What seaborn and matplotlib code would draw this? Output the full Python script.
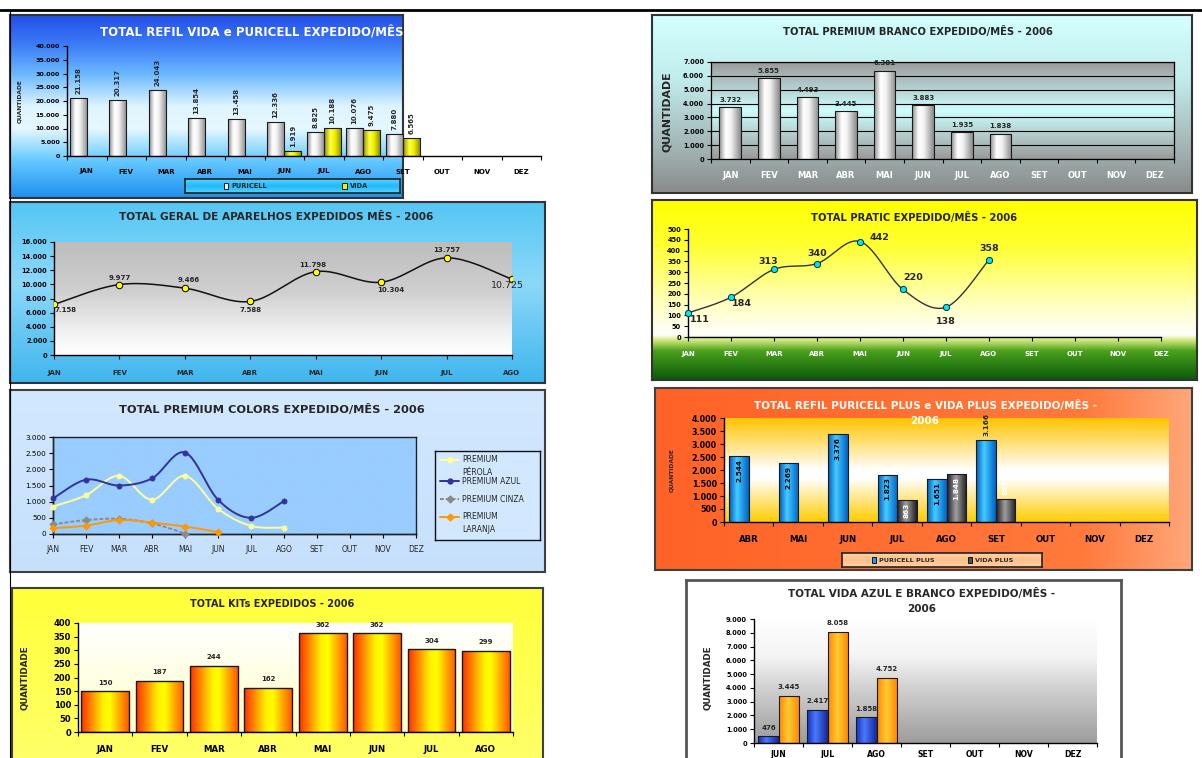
import numpy as np
import pandas as pd
import matplotlib
matplotlib.use("Agg")
import matplotlib.pyplot as plt
import seaborn as sns
from matplotlib.colors import LinearSegmentedColormap, to_hex
from matplotlib.lines import Line2D
from matplotlib.patches import Rectangle

sns.set_theme(style="white")
plt.rcParams['font.family'] = ['DejaVu Sans']

# ---------------- DATA ----------------
meses = ["JAN", "FEV", "MAR", "ABR", "MAI", "JUN", "JUL", "AGO", "SET", "OUT", "NOV", "DEZ"]

refil_puricell = [21158, 20317, 24043, 13854, 13458, 12336, 8825, 10076, 7880]
refil_vida = [None, None, None, None, None, 1919, 10188, 9475, 6565]

branco_vals = [3732, 5855, 4493, 3445, 6381, 3883, 1935, 1838]

geral_vals = [7158, 9977, 9466, 7588, 11798, 10304, 13757, 10725]

pratic_vals = [111, 184, 313, 340, 442, 220, 138, 358]

colors_perola = [850, 1200, 1800, 1060, 1800, 780, 250, 200]
colors_azul = [1100, 1680, 1500, 1720, 2520, 1060, 500, 1020]
colors_cinza = [300, 430, 470, 330, 15]
colors_laranja = [180, 260, 430, 350, 230, 60]

plus_meses = ["ABR", "MAI", "JUN", "JUL", "AGO", "SET", "OUT", "NOV", "DEZ"]
plus_puricell = [2544, 2269, 3376, 1823, 1651, 3166]
plus_vida = [None, None, None, 863, 1848, 883]

kits_meses = ["JAN", "FEV", "MAR", "ABR", "MAI", "JUN", "JUL", "AGO"]
kits_vals = [150, 187, 244, 162, 362, 362, 304, 299]

ab_meses = ["JUN", "JUL", "AGO", "SET", "OUT", "NOV", "DEZ"]
ab_azul = [476, 2417, 1858]
ab_branco = [3445, 8058, 4752]

# ---------------- HELPERS ----------------
W, H = 1202, 758
fig = plt.figure(figsize=(W / 100, H / 100), dpi=100)
fig.patch.set_facecolor("white")


def br(v):
    return f"{int(round(v)):,}".replace(",", ".")


def px_rect(x0, y0, x1, y1):
    return [x0 / W, 1 - y1 / H, (x1 - x0) / W, (y1 - y0) / H]


def gcmap(stops):
    return LinearSegmentedColormap.from_list("g", stops)


def panel(x0, y0, x1, y1, stops, edge="#404040", lw=1.5, horizontal=False):
    a = fig.add_axes(px_rect(x0, y0, x1, y1))
    arr = np.linspace(0, 1, 256)
    arr = arr.reshape(1, -1) if horizontal else arr.reshape(-1, 1)
    a.imshow(arr, cmap=gcmap(stops), aspect="auto", extent=[0, 1, 0, 1],
             origin="upper", interpolation="bilinear")
    a.set_xlim(0, 1)
    a.set_ylim(0, 1)
    a.set_xticks([])
    a.set_yticks([])
    for s in a.spines.values():
        if edge is None:
            s.set_visible(False)
        else:
            s.set_color(edge)
            s.set_linewidth(lw)
    return a


def chart_axes(x0, y0, x1, y1):
    a = fig.add_axes(px_rect(x0, y0, x1, y1))
    a.set_facecolor("none")
    return a


def ftext(x, y, s, **kw):
    kw.setdefault("ha", "center")
    kw.setdefault("va", "center")
    return fig.text(x / W, 1 - y / H, s, **kw)


def long_df(cats, series):
    rows = []
    for name, vals in series.items():
        for c, v in zip(cats, vals):
            if v is not None:
                rows.append((c, name, v))
    return pd.DataFrame(rows, columns=["mes", "serie", "qtd"])


def shade_bars(ax, color_to_stops, edge="#1a1a1a", lw=0.8):
    """Return list of (patch, key) and paint a cylinder gradient inside each bar."""
    out = []
    g = np.linspace(0, 1, 64).reshape(1, -1)
    for p in list(ax.patches):
        h = p.get_height()
        if not np.isfinite(h) or h == 0:
            continue
        key = to_hex(p.get_facecolor())
        stops = color_to_stops.get(key)
        out.append((p, key))
        if stops is None:
            continue
        x0, y0, w = p.get_x(), p.get_y(), p.get_width()
        im = ax.imshow(g, cmap=gcmap(stops), extent=[x0, x0 + w, y0, y0 + h],
                       aspect="auto", interpolation="bilinear",
                       zorder=p.get_zorder() - 0.01)
        im.set_clip_path(p)
        p.set_facecolor("none")
        p.set_edgecolor(edge)
        p.set_linewidth(lw)
    return out


def cat_ticks(ax, labels, n, fs, color="black", pad=4, minor_len=3):
    ax.set_xticks(range(len(labels)))
    ax.set_xticklabels(labels, fontsize=fs, fontweight="bold", color=color)
    ax.set_xticks(np.arange(-0.5, n, 1.0), minor=True)
    ax.tick_params(axis="x", which="major", length=0, pad=pad)
    ax.tick_params(axis="x", which="minor", length=minor_len, width=0.8,
                   color="black", direction="out", bottom=True)


def y_ticks(ax, ticks, fs, color="black", weight="bold", pad=2):
    ax.set_yticks(ticks)
    ax.set_yticklabels([br(t) for t in ticks], fontsize=fs, fontweight=weight, color=color)
    ax.tick_params(axis="y", length=3, width=0.8, color="black", direction="out",
                   left=True, pad=pad)


def smooth_curve(ys, n=24):
    P = np.column_stack([np.arange(len(ys), dtype=float), np.asarray(ys, float)])
    segs = []
    for i in range(len(P) - 1):
        p0 = P[i - 1] if i > 0 else P[i]
        p1, p2 = P[i], P[i + 1]
        p3 = P[i + 2] if i + 2 < len(P) else P[i + 1]
        c1 = p1 + (p2 - p0) / 6.0
        c2 = p2 - (p3 - p1) / 6.0
        t = np.linspace(0, 1, n)[:, None]
        seg = (1 - t) ** 3 * p1 + 3 * (1 - t) ** 2 * t * c1 + 3 * (1 - t) * t ** 2 * c2 + t ** 3 * p2
        segs.append(seg if i == 0 else seg[1:])
    return np.vstack(segs)


def spines(ax, which, color="black", lw=0.9):
    for k, s in ax.spines.items():
        if k in which:
            s.set_visible(True)
            s.set_color(color)
            s.set_linewidth(lw)
        else:
            s.set_visible(False)


WHITE_BAR = [(0, "#8e8e8e"), (0.3, "#ffffff"), (0.55, "#f2f2f2"), (1, "#8a8a8a")]
YELLOW_BAR = [(0, "#8f8f00"), (0.35, "#ffff40"), (0.6, "#f2f200"), (1, "#858500")]

# ================= PANEL 1: REFIL VIDA e PURICELL =================
bg1 = panel(10, 15, 403, 198, [(0, "#2350e6"), (0.15, "#3a78f5"), (0.32, "#6ab8ff"),
                               (0.5, "#def5ff"), (0.62, "#e6f8ff"), (0.8, "#63c8ff"),
                               (1, "#1e8ff0")], edge="#333333")
ax1 = chart_axes(67, 46, 541, 156)
df1 = long_df(meses, {"PURICELL": refil_puricell, "VIDA": refil_vida})
sns.barplot(data=df1, x="mes", y="qtd", hue="serie", order=meses,
            hue_order=["PURICELL", "VIDA"], palette=["#e6e6e6", "#f0f000"],
            width=0.87, saturation=1, errorbar=None, legend=False, ax=ax1,
            edgecolor="#1a1a1a", linewidth=0.8)
bars1 = shade_bars(ax1, {"#e6e6e6": WHITE_BAR, "#f0f000": YELLOW_BAR})
for p, key in bars1:
    ax1.annotate(br(p.get_height()), (p.get_x() + p.get_width() / 2, p.get_height()),
                 xytext=(0, 3), textcoords="offset points", rotation=90,
                 ha="center", va="bottom", fontsize=5, fontweight="bold")
ax1.set_xlim(-0.5, 11.5)
ax1.set_ylim(0, 40000)
y_ticks(ax1, list(range(0, 40001, 5000)), 4.6)
cat_ticks(ax1, meses, 12, 5, pad=9)
spines(ax1, ["left", "bottom"], lw=1.0)
ax1.set_xlabel("")
ax1.set_ylabel("")
ftext(20, 101, "QUANTIDADE", rotation=90, fontsize=4.3, fontweight="bold")
t1 = ftext(275, 33, "TOTAL REFIL VIDA e PURICELL EXPEDIDO/MÊS - 2006", color="white",
           fontsize=8.5, fontweight="bold")
t1.set_clip_path(bg1.patch)
lg1 = panel(185, 179, 400, 193, [(0, "#55d4ff"), (0.5, "#22b8ff"), (1, "#55d4ff")],
            edge="#222222", lw=1.2)
lg1.add_patch(Rectangle((0.18, 0.3), 0.022, 0.4, facecolor="#f2f2f2", edgecolor="black", lw=0.6))
lg1.text(0.215, 0.5, "PURICELL", fontsize=4.8, fontweight="bold", va="center")
lg1.add_patch(Rectangle((0.73, 0.3), 0.022, 0.4, facecolor="#f0f000", edgecolor="black", lw=0.6))
lg1.text(0.765, 0.5, "VIDA", fontsize=4.8, fontweight="bold", va="center")

# ================= PANEL 2: PREMIUM BRANCO =================
panel(652, 15, 1192, 193, [(0, "#d4ffff"), (0.35, "#c2eded"), (0.75, "#a2b4b4"),
                           (1, "#8a8a8a")], edge="#333333")
panel(711, 62, 1174, 159, [(0, "#9a9a9a"), (0.5, "#ccffff"), (1, "#9a9a9a")], edge=None)
ax2 = chart_axes(711, 62, 1174, 159)
df2 = pd.DataFrame({"mes": meses[:len(branco_vals)], "qtd": branco_vals})
sns.barplot(data=df2, x="mes", y="qtd", order=meses, color="#ececec", width=0.56,
            saturation=1, errorbar=None, ax=ax2, edgecolor="#1a1a1a", linewidth=0.8)
bars2 = shade_bars(ax2, {"#ececec": WHITE_BAR})
for p, key in bars2:
    ax2.annotate(br(p.get_height()), (p.get_x() + p.get_width() / 2, p.get_height()),
                 xytext=(0, 3), textcoords="offset points", ha="center", va="bottom",
                 fontsize=5, fontweight="bold")
ax2.set_xlim(-0.5, 11.5)
ax2.set_ylim(0, 7000)
y_ticks(ax2, list(range(0, 7001, 1000)), 4.8)
cat_ticks(ax2, meses, 12, 6, color="white", pad=9)
ax2.yaxis.grid(True, color="black", lw=0.8)
ax2.set_axisbelow(True)
spines(ax2, ["left", "bottom", "top", "right"], lw=0.9)
ax2.set_xlabel("")
ax2.set_ylabel("")
ftext(667, 112, "QUANTIDADE", rotation=90, fontsize=7.8, fontweight="bold")
ftext(918, 32, "TOTAL PREMIUM BRANCO EXPEDIDO/MÊS - 2006", fontsize=7.2, fontweight="bold")

# ================= PANEL 3: TOTAL GERAL =================
panel(10, 202, 545, 383, [(0, "#55c6f4"), (0.45, "#8cd8fa"), (1, "#3fb6ee")], edge="#333333")
panel(54, 242, 512, 355, [(0, "#bdbdbd"), (0.45, "#d0d0d0"), (0.8, "#f2f2f2"), (1, "#ffffff")], edge=None)
ax3 = chart_axes(54, 242, 512, 355)
c3 = smooth_curve(geral_vals)
sns.lineplot(x=c3[:, 0], y=c3[:, 1], sort=False, estimator=None, color="#111111", lw=1.1, ax=ax3)
sns.scatterplot(x=np.arange(len(geral_vals)), y=geral_vals, color="#ffff00", edgecolor="black",
                s=22, linewidth=0.7, zorder=5, ax=ax3, legend=False)
off3 = [(12, -6), (0, 7), (4, 8), (0, -9), (-3, 7), (10, -8), (0, 8), (-5, -6)]
for i, (v, o) in enumerate(zip(geral_vals, off3)):
    big = i == len(geral_vals) - 1
    ax3.annotate(br(v), (i, v), xytext=(o[0] * 0.72, o[1] * 0.72), textcoords="offset points",
                 ha="center", va="center", fontsize=6.8 if big else 5,
                 fontweight="normal" if big else "bold", zorder=6)
ax3.set_xlim(0, 7)
ax3.set_ylim(0, 16000)
y_ticks(ax3, list(range(0, 16001, 2000)), 4.8)
ax3.set_xticks(range(8))
ax3.set_xticklabels(meses[:8], fontsize=5, fontweight="bold")
ax3.tick_params(axis="x", length=3, width=0.8, color="black", bottom=True, pad=8)
spines(ax3, ["left", "bottom"], lw=1.0)
ftext(276, 217, "TOTAL GERAL DE APARELHOS EXPEDIDOS MÊS - 2006", fontsize=7.6, fontweight="bold")

# ================= PANEL 4: PRATIC =================
panel(652, 200, 1197, 380, [(0, "#ffff00"), (0.25, "#ffff30"), (0.56, "#ffffb8"),
                            (0.75, "#ffffff"), (0.78, "#d0e878"), (0.84, "#4aa01c"),
                            (1, "#0a5a0a")], edge="#333333")
ax4 = chart_axes(688, 229, 1161, 337)
c4 = smooth_curve(pratic_vals)
sns.lineplot(x=c4[:, 0], y=c4[:, 1], sort=False, estimator=None, color="#333333", lw=1.0, ax=ax4)
sns.scatterplot(x=np.arange(len(pratic_vals)), y=pratic_vals, color="#00e5ff", edgecolor="#003333",
                s=20, linewidth=0.7, zorder=5, ax=ax4, legend=False, clip_on=False)
off4 = [(12, -6), (11, -6), (-6, 8), (0, 10), (19, 4), (10, 12), (0, -14), (0, 11)]
for i, (v, o) in enumerate(zip(pratic_vals, off4)):
    ax4.annotate(str(v), (i, v), xytext=(o[0] * 0.72, o[1] * 0.72), textcoords="offset points",
                 ha="center", va="center", fontsize=6.8, fontweight="bold", zorder=6)
ax4.set_xlim(0, 11)
ax4.set_ylim(0, 500)
y_ticks(ax4, list(range(0, 501, 50)), 4.8)
ax4.set_xticks(range(12))
ax4.set_xticklabels(meses, fontsize=5, fontweight="bold", color="white")
ax4.tick_params(axis="x", length=3, width=0.8, color="black", bottom=True, pad=7)
spines(ax4, ["left", "bottom"], lw=1.0)
ftext(914, 218, "TOTAL PRATIC EXPEDIDO/MÊS - 2006", fontsize=7.2, fontweight="bold")

# ================= PANEL 5: PREMIUM COLORS =================
panel(10, 390, 545, 572, [(0, "#d2e8ff"), (1, "#c6e0fc")], edge="#404040")
panel(53, 437, 416, 534, [(0, "#99ccff"), (1, "#99ccff")], edge="#222222", lw=1.0)
ax5 = chart_axes(53, 437, 416, 534)
series5 = [
    ("PREMIUM\nPÉROLA", colors_perola, "#ffff99", "o", "-"),
    ("PREMIUM AZUL", colors_azul, "#333399", "o", "-"),
    ("PREMIUM CINZA", colors_cinza, "#8a8a8a", "D", (0, (2, 1))),
    ("PREMIUM\nLARANJA", colors_laranja, "#ff9900", "D", "-"),
]
for name, vals, col, mk, ls in series5:
    cc = smooth_curve(vals)
    sns.lineplot(x=cc[:, 0], y=cc[:, 1], sort=False, estimator=None, color=col, lw=1.4,
                 ax=ax5, linestyle=ls)
    sns.scatterplot(x=np.arange(len(vals)), y=vals, color=col, marker=mk, s=14,
                    edgecolor=col, linewidth=0.5, zorder=5, ax=ax5, legend=False, clip_on=False)
ax5.set_xlim(0, 11)
ax5.set_ylim(0, 3000)
y_ticks(ax5, list(range(0, 3001, 500)), 5.2, weight="normal")
ax5.set_xticks(range(12))
ax5.set_xticklabels(meses, fontsize=5.5)
ax5.tick_params(axis="x", length=3, width=0.8, color="black", bottom=True, pad=5)
spines(ax5, ["left", "bottom"], color="#222222", lw=1.0)
ftext(272, 409, "TOTAL PREMIUM COLORS EXPEDIDO/MÊS - 2006", fontsize=8.2, fontweight="bold")
lg5 = panel(435, 451, 540, 540, [(0, "#d2e8ff"), (1, "#d2e8ff")], edge="#111111", lw=1.0)
leg_pos = [0.9, 0.66, 0.46, 0.26]
for (name, vals, col, mk, ls), yl in zip(series5, leg_pos):
    lg5.add_line(Line2D([0.05, 0.23], [yl, yl], color=col, lw=1.4, linestyle=ls))
    lg5.add_line(Line2D([0.14], [yl], color=col, marker=mk, markersize=3.5))
    parts = name.split("\n")
    t = lg5.text(0.26, yl, parts[0], fontsize=5.5, va="center", ha="left")
    t.set_clip_path(lg5.patch)
    if len(parts) > 1:
        t2 = lg5.text(0.26, yl - 0.14, parts[1], fontsize=5.5, va="center", ha="left")
        t2.set_clip_path(lg5.patch)

# ================= PANEL 6: PURICELL PLUS e VIDA PLUS =================
panel(655, 388, 1192, 570, [(0, "#ff6226"), (0.8, "#ff7a3c"), (1, "#ffa77a")],
      edge="#404040", horizontal=True)
panel(724, 418, 1169, 522, [(0, "#ffc400"), (0.5, "#ffffff"), (0.58, "#ffffff"), (1, "#ffcc00")], edge=None)
ax6 = chart_axes(724, 418, 1169, 522)
df6 = long_df(plus_meses, {"PURICELL PLUS": plus_puricell, "VIDA PLUS": plus_vida})
sns.barplot(data=df6, x="mes", y="qtd", hue="serie", order=plus_meses,
            hue_order=["PURICELL PLUS", "VIDA PLUS"], palette=["#1a9cff", "#505050"],
            width=0.79, saturation=1, errorbar=None, legend=False, ax=ax6,
            edgecolor="#1a1a1a", linewidth=0.8)
bars6 = shade_bars(ax6, {"#1a9cff": [(0, "#0058c0"), (0.4, "#44ccff"), (1, "#0062c8")],
                         "#505050": [(0, "#1e1e1e"), (0.45, "#a0a0a0"), (1, "#1e1e1e")]})
for p, key in bars6:
    h = p.get_height()
    xc = p.get_x() + p.get_width() / 2
    is_vida = key == "#505050"
    if is_vida and h < 1000:
        if h > 870:
            ax6.annotate(br(h), (xc, h), xytext=(0, 3), textcoords="offset points", rotation=90,
                         ha="center", va="bottom", fontsize=5.2, fontweight="bold", color="white")
        else:
            ax6.annotate(br(h), (xc, h), xytext=(0, -2), textcoords="offset points", rotation=90,
                         ha="center", va="top", fontsize=5.2, fontweight="bold", color="white")
    elif h > 3100 and h < 3300:
        ax6.annotate(br(h), (xc, h), xytext=(0, 3), textcoords="offset points", rotation=90,
                     ha="center", va="bottom", fontsize=5.2, fontweight="bold", annotation_clip=False)
    else:
        ax6.annotate(br(h), (xc, h), xytext=(0, -2), textcoords="offset points", rotation=90,
                     ha="center", va="top", fontsize=5.2, fontweight="bold",
                     color="white" if is_vida else "black")
ax6.set_xlim(-0.5, 8.5)
ax6.set_ylim(0, 4000)
y_ticks(ax6, list(range(0, 4001, 500)), 5.8)
cat_ticks(ax6, plus_meses, 9, 6.2, pad=9)
spines(ax6, ["left", "bottom"], lw=1.0)
ax6.set_xlabel("")
ax6.set_ylabel("")
ftext(672, 470, "QUANTIDADE", rotation=90, fontsize=4.3, fontweight="bold")
ftext(925, 406, "TOTAL REFIL PURICELL PLUS e VIDA PLUS EXPEDIDO/MÊS -", color="white",
      fontsize=7.5, fontweight="bold")
ftext(925, 421, "2006", color="white", fontsize=7.5, fontweight="bold")
lg6 = panel(842, 553, 1042, 567, [(0, "#ffd2a8"), (0.5, "#ffc08a"), (1, "#ffd2a8")],
            edge="#222222", lw=1.2)
lg6.add_patch(Rectangle((0.15, 0.3), 0.022, 0.4, facecolor="#1a9cff", edgecolor="black", lw=0.6))
lg6.text(0.185, 0.5, "PURICELL PLUS", fontsize=4.6, fontweight="bold", va="center")
lg6.add_patch(Rectangle((0.63, 0.3), 0.022, 0.4, facecolor="#505050", edgecolor="black", lw=0.6))
lg6.text(0.665, 0.5, "VIDA PLUS", fontsize=4.6, fontweight="bold", va="center")

# ================= PANEL 7: KITS =================
panel(12, 588, 543, 765, [(0, "#ffff3a"), (1, "#ffff6a")], edge="#404040")
panel(78, 623, 513, 732, [(0, "#ffffff"), (1, "#ffffc8")], edge=None)
ax7 = chart_axes(78, 623, 513, 732)
df7 = pd.DataFrame({"mes": kits_meses, "qtd": kits_vals})
sns.barplot(data=df7, x="mes", y="qtd", order=kits_meses, color="#ffaa00", width=0.88,
            saturation=1, errorbar=None, ax=ax7, edgecolor="#1a1a1a", linewidth=1.0)
bars7 = shade_bars(ax7, {"#ffaa00": [(0, "#ff3000"), (0.45, "#ffee00"), (0.6, "#ffff00"),
                                     (1, "#ff5a00")]}, lw=1.0)
for p, key in bars7:
    ax7.annotate(br(p.get_height()), (p.get_x() + p.get_width() / 2, p.get_height()),
                 xytext=(0, 4), textcoords="offset points", ha="center", va="bottom",
                 fontsize=5, fontweight="bold", annotation_clip=False)
ax7.set_xlim(-0.5, 7.5)
ax7.set_ylim(0, 400)
y_ticks(ax7, list(range(0, 401, 50)), 6)
cat_ticks(ax7, kits_meses, 8, 6.2, pad=9)
spines(ax7, ["left", "bottom"], lw=1.0)
ax7.set_xlabel("")
ax7.set_ylabel("")
ftext(25, 678, "QUANTIDADE", rotation=90, fontsize=6.3, fontweight="bold")
ftext(272, 604, "TOTAL KITs EXPEDIDOS - 2006", fontsize=7, fontweight="bold")

# ================= PANEL 8: VIDA AZUL E BRANCO =================
panel(686, 580, 1121, 765, [(0, "#ffffff"), (1, "#ffffff")], edge="#555555", lw=2)
panel(754, 619, 1097, 743, [(0, "#ffffff"), (0.3, "#f4f4f4"), (0.55, "#d2d2d2"), (1, "#9c9c9c")], edge=None)
ax8 = chart_axes(754, 619, 1097, 743)
df8 = long_df(ab_meses, {"AZUL": ab_azul, "BRANCO": ab_branco})
sns.barplot(data=df8, x="mes", y="qtd", hue="serie", order=ab_meses,
            hue_order=["AZUL", "BRANCO"], palette=["#2f55ee", "#ffaa00"],
            width=0.82, saturation=1, errorbar=None, legend=False, ax=ax8,
            edgecolor="#1a1a1a", linewidth=0.8)
bars8 = shade_bars(ax8, {"#2f55ee": [(0, "#1630b8"), (0.4, "#4a78ff"), (1, "#14289a")],
                         "#ffaa00": [(0, "#ff8800"), (0.45, "#ffcc33"), (1, "#ff8400")]})
for p, key in bars8:
    ax8.annotate(br(p.get_height()), (p.get_x() + p.get_width() / 2, p.get_height()),
                 xytext=(0, 4), textcoords="offset points", ha="center", va="bottom",
                 fontsize=5, fontweight="bold")
ax8.set_xlim(-0.5, 6.5)
ax8.set_ylim(0, 9000)
y_ticks(ax8, list(range(0, 9001, 1000)), 4.8)
cat_ticks(ax8, ab_meses, 7, 5.6, pad=5)
spines(ax8, ["left", "bottom"], lw=1.0)
ax8.set_xlabel("")
ax8.set_ylabel("")
ftext(708, 678, "QUANTIDADE", rotation=90, fontsize=6.3, fontweight="bold")
ftext(922, 593, "TOTAL VIDA AZUL E BRANCO EXPEDIDO/MÊS -", fontsize=7.5, fontweight="bold")
ftext(922, 609, "2006", fontsize=7.5, fontweight="bold")

# page frame lines
fig.add_artist(Line2D([0, 1], [1 - 10 / H, 1 - 10 / H], transform=fig.transFigure, color="black", lw=2))
fig.add_artist(Line2D([10 / W, 10 / W], [0, 1 - 10 / H], transform=fig.transFigure, color="black", lw=0.8))

fig.savefig("out.png", dpi=100)
